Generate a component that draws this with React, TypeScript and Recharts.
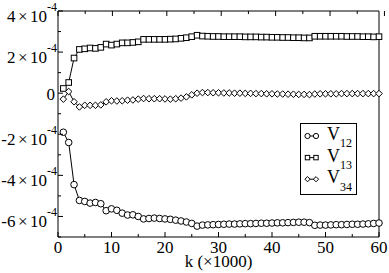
import { LineChart, Line, XAxis, YAxis, Legend } from 'recharts';

// k in units of 1000, values in units of 1e-4
const kValues = [
  1, 2, 3, 4, 5, 6, 7, 8, 9, 10, 11, 12, 13, 14, 15, 16, 17, 18, 19, 20,
  21, 22, 23, 24, 25, 26, 27, 28, 29, 30, 31, 32, 33, 34, 35, 36, 37, 38, 39, 40,
  41, 42, 43, 44, 45, 46, 47, 48, 49, 50, 51, 52, 53, 54, 55, 56, 57, 58, 59, 60,
];

const v12 = [
  -1.9, -2.4, -4.45, -5.22, -5.27, -5.35, -5.32, -5.38, -5.72, -5.63,
  -5.7, -5.84, -5.93, -5.92, -6.0, -6.12, -6.1, -6.08, -6.1, -6.12,
  -6.14, -6.18, -6.22, -6.27, -6.34, -6.47, -6.42, -6.41, -6.4, -6.39,
  -6.38, -6.37, -6.37, -6.36, -6.35, -6.35, -6.34, -6.33, -6.33, -6.32,
  -6.31, -6.31, -6.3, -6.29, -6.28, -6.28, -6.3, -6.43, -6.42, -6.42,
  -6.41, -6.4, -6.4, -6.39, -6.38, -6.38, -6.37, -6.36, -6.34, -6.32,
];

const v13 = [
  0.23, 0.52, 1.71, 2.13, 2.16, 2.2, 2.18, 2.23, 2.39, 2.34,
  2.39, 2.45, 2.45, 2.47, 2.5, 2.62, 2.62, 2.62, 2.62, 2.62,
  2.63, 2.64, 2.67, 2.7, 2.75, 2.82, 2.78, 2.77, 2.76, 2.76,
  2.75, 2.75, 2.75, 2.75, 2.74, 2.74, 2.74, 2.73, 2.73, 2.72,
  2.72, 2.71, 2.71, 2.7, 2.7, 2.69, 2.69, 2.77, 2.77, 2.77,
  2.77, 2.77, 2.77, 2.76, 2.76, 2.76, 2.75, 2.75, 2.74, 2.75,
];

const v34 = [
  -0.29, 0.08, -0.42, -0.67, -0.59, -0.59, -0.59, -0.57, -0.42, -0.37,
  -0.38, -0.37, -0.34, -0.33, -0.29, -0.26, -0.27, -0.27, -0.27, -0.28,
  -0.29, -0.27, -0.24, -0.18, -0.08, 0.0, 0.03, 0.03, 0.02, 0.02,
  0.01, 0.01, 0.0, 0.0, -0.01, -0.01, -0.02, -0.02, -0.03, -0.03,
  -0.04, -0.04, -0.05, -0.05, -0.06, -0.06, -0.07, -0.04, -0.03, -0.03,
  -0.03, -0.03, -0.02, -0.02, -0.02, -0.02, -0.02, -0.02, -0.02, -0.02,
];

const xTicks = [0, 5, 10, 15, 20, 25, 30, 35, 40, 45, 50, 55, 60];
const yTicks = [-7, -6, -5, -4, -3, -2, -1, 0, 1, 2, 3, 4];

const data = kValues.map((k, i) => ({ k, v12: v12[i], v13: v13[i], v34: v34[i] }));

const FONT = '"Liberation Serif", "DejaVu Serif", serif';
const SHAPES: Record<string, string> = { v12: 'circle', v13: 'square', v34: 'diamond' };

function Marker({ cx, cy, shape, r }: any) {
  if (cx == null || cy == null) return null;
  if (shape === 'circle') {
    return <circle cx={cx} cy={cy} r={r} fill="white" stroke="black" strokeWidth={1} />;
  }
  if (shape === 'square') {
    const h = r * 0.85;
    return <rect x={cx - h} y={cy - h} width={h * 2} height={h * 2} fill="white" stroke="black" strokeWidth={1} />;
  }
  return (
    <polygon
      points={`${cx},${cy - r} ${cx + r},${cy} ${cx},${cy + r} ${cx - r},${cy}`}
      fill="white"
      stroke="black"
      strokeWidth={1}
    />
  );
}

const dotFor = (shape: string) => (p: any) => (
  <Marker key={`${shape}-${p.index}`} cx={p.cx} cy={p.cy} shape={shape} r={3.3} />
);

function BottomTick({ x, y, payload }: any) {
  const v = payload.value;
  const major = v % 10 === 0;
  return (
    <g>
      <line x1={x} x2={x} y1={y} y2={y - (major ? 5 : 3)} stroke="black" />
      {major && (
        <text x={x} y={y + 16} textAnchor="middle" fontSize={17} fontFamily={FONT} fill="black">
          {v}
        </text>
      )}
    </g>
  );
}

function TopTick({ x, y, payload }: any) {
  const major = payload.value % 10 === 0;
  return <line x1={x} x2={x} y1={y} y2={y + (major ? 5 : 3)} stroke="black" />;
}

function LeftTick({ x, y, payload }: any) {
  const v = payload.value;
  const major = v % 2 === 0;
  return (
    <g>
      <line x1={x} x2={x + (major ? 5 : 3)} y1={y} y2={y} stroke="black" />
      {major && v === 0 && (
        <text x={x - 3} y={y + 6.5} textAnchor="end" fontSize={17} fontFamily={FONT} fill="black">
          0
        </text>
      )}
      {major && v !== 0 && (
        <text x={x - 1} y={y + 10.5} textAnchor="end" fontSize={17} fontFamily={FONT} fill="black">
          <tspan>{v}</tspan>
          <tspan dx={2.5}>×</tspan>
          <tspan dx={2.5}>10</tspan>
          <tspan dy={-10.5} fontSize={12}>-4</tspan>
        </text>
      )}
    </g>
  );
}

function RightTick({ x, y, payload }: any) {
  const major = payload.value % 2 === 0;
  return <line x1={x} x2={x - (major ? 5 : 3)} y1={y} y2={y} stroke="black" />;
}

function XTitle() {
  return (
    <text x={218.5} y={267} textAnchor="middle" fontSize={17} fontFamily={FONT} fill="black">
      k (×1000)
    </text>
  );
}

function LegendBox({ payload }: any) {
  return (
    <svg width={57} height={72} style={{ display: 'block' }}>
      <rect x={0.5} y={0.5} width={56} height={71} fill="white" stroke="black" />
      {(payload || []).map((entry: any, i: number) => {
        const shape = SHAPES[entry.dataKey] || 'circle';
        const base = 17 + i * 21.6;
        const sy = base - 4;
        const name = String(entry.value);
        return (
          <g key={name}>
            <line x1={7.5} x2={16} y1={sy} y2={sy} stroke="black" />
            <Marker cx={7.5} cy={sy} shape={shape} r={2.6} />
            <Marker cx={16} cy={sy} shape={shape} r={2.6} />
            <text x={27} y={base} fontSize={18} fontFamily={FONT} fill="black">
              {name.slice(0, 1)}
              <tspan dy={7.3} fontSize={12}>
                {name.slice(1)}
              </tspan>
            </text>
          </g>
        );
      })}
    </svg>
  );
}

export default function App() {
  return (
    <div style={{ position: 'absolute', left: 0, top: 0, width: 389, height: 273, background: 'white' }}>
      <LineChart width={389} height={273} data={data} margin={{ top: 0, right: 0, bottom: 0, left: 0 }}>
        <XAxis
          dataKey="k"
          type="number"
          domain={[0, 60]}
          ticks={xTicks}
          interval={0}
          tickSize={0}
          tickMargin={0}
          height={36}
          axisLine={{ stroke: 'black' }}
          tick={<BottomTick />}
          label={<XTitle />}
        />
        <XAxis
          xAxisId="top"
          orientation="top"
          type="number"
          domain={[0, 60]}
          ticks={xTicks}
          interval={0}
          tickSize={0}
          tickMargin={0}
          height={11}
          axisLine={{ stroke: 'black' }}
          tick={<TopTick />}
        />
        <YAxis
          type="number"
          domain={[-7, 4]}
          ticks={yTicks}
          interval={0}
          tickSize={0}
          tickMargin={0}
          width={58}
          axisLine={{ stroke: 'black' }}
          tick={<LeftTick />}
        />
        <YAxis
          yAxisId="right"
          orientation="right"
          type="number"
          domain={[-7, 4]}
          ticks={yTicks}
          interval={0}
          tickSize={0}
          tickMargin={0}
          width={10}
          axisLine={{ stroke: 'black' }}
          tick={<RightTick />}
        />
        <Legend
          layout="vertical"
          align="center"
          verticalAlign="middle"
          content={<LegendBox />}
          wrapperStyle={{ left: 300, top: 123, width: 57, height: 72 }}
        />
        <Line dataKey="v12" name="V12" stroke="black" strokeWidth={1} dot={dotFor('circle')} isAnimationActive={false} />
        <Line dataKey="v13" name="V13" stroke="black" strokeWidth={1} dot={dotFor('square')} isAnimationActive={false} />
        <Line dataKey="v34" name="V34" stroke="black" strokeWidth={1} dot={dotFor('diamond')} isAnimationActive={false} />
      </LineChart>
    </div>
  );
}
